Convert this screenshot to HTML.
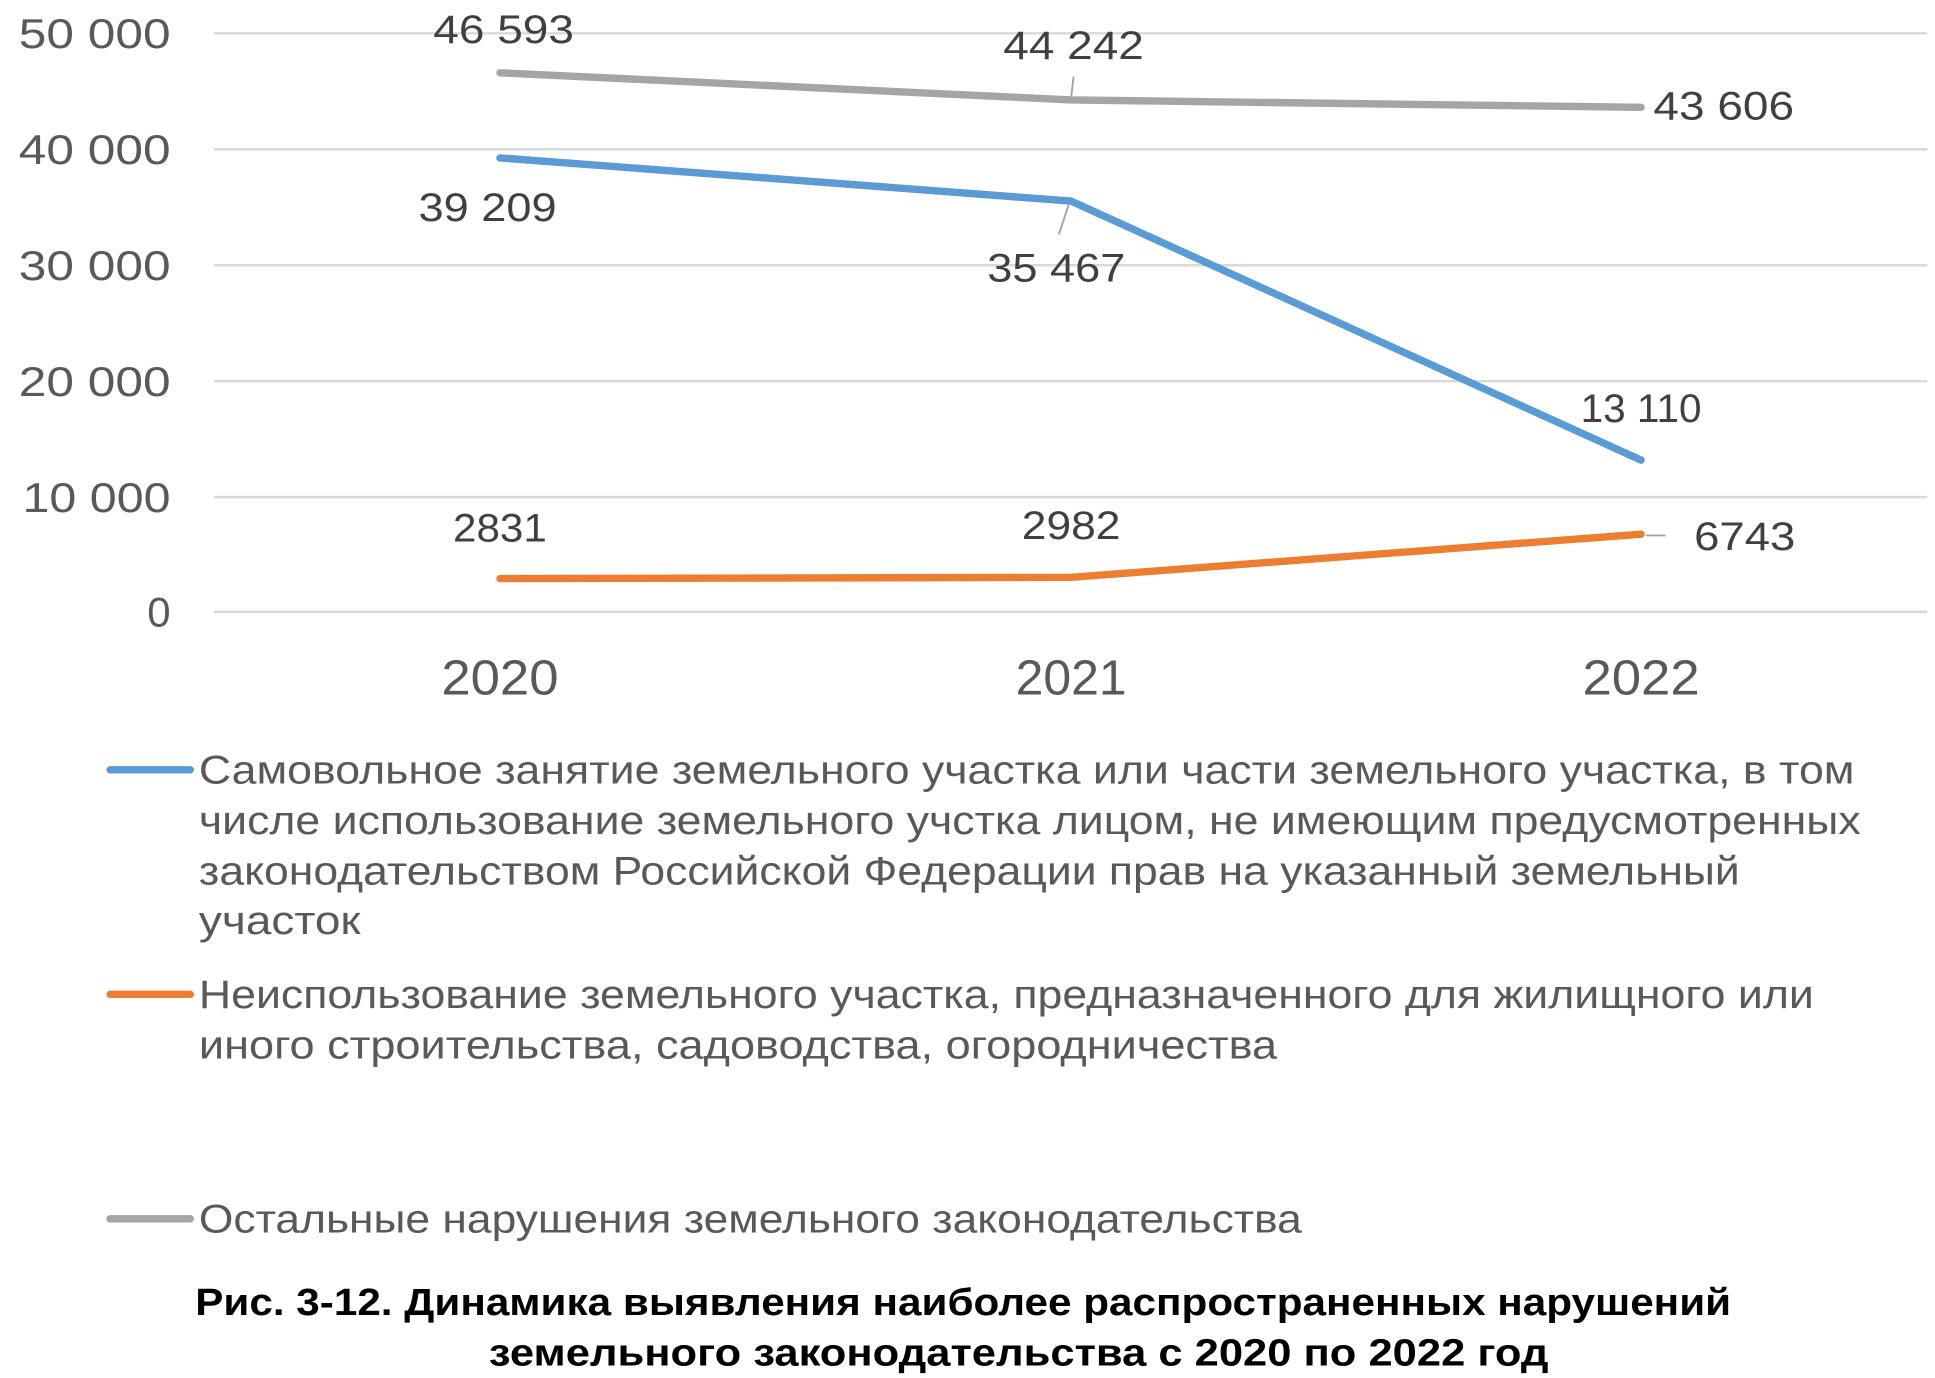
<!DOCTYPE html>
<html><head><meta charset="utf-8"><style>
html,body{margin:0;padding:0;background:#fff;}
svg{display:block;}
text{font-family:"Liberation Sans","Noto Sans CJK SC",sans-serif;}
</style></head><body>
<svg width="1935" height="1378" viewBox="0 0 1568 1117" xmlns="http://www.w3.org/2000/svg">
<g stroke="#d9d9d9" stroke-width="2">
<line x1="173" y1="27" x2="1562" y2="27"/>
<line x1="173" y1="121" x2="1562" y2="121"/>
<line x1="173" y1="215" x2="1562" y2="215"/>
<line x1="173" y1="309" x2="1562" y2="309"/>
<line x1="173" y1="403" x2="1562" y2="403"/>
<line x1="173" y1="496" x2="1562" y2="496"/>
</g>
<g fill="#595959" font-size="34" text-anchor="end">
<text x="138" y="39" textLength="123" lengthAdjust="spacingAndGlyphs">50 000</text>
<text x="138" y="133" textLength="123" lengthAdjust="spacingAndGlyphs">40 000</text>
<text x="138" y="227" textLength="123" lengthAdjust="spacingAndGlyphs">30 000</text>
<text x="138" y="321" textLength="123" lengthAdjust="spacingAndGlyphs">20 000</text>
<text x="138" y="415" textLength="120" lengthAdjust="spacingAndGlyphs">10 000</text>
<text x="138" y="508">0</text>
</g>
<g fill="#595959" font-size="40" text-anchor="middle">
<text x="405" y="563" textLength="95" lengthAdjust="spacingAndGlyphs">2020</text>
<text x="868" y="563" textLength="90" lengthAdjust="spacingAndGlyphs">2021</text>
<text x="1330" y="563" textLength="95" lengthAdjust="spacingAndGlyphs">2022</text>
</g>
<g fill="none" stroke-width="6" stroke-linecap="round" stroke-linejoin="round">
<polyline stroke="#a5a5a5" points="405,59 868,81 1330,87"/>
<polyline stroke="#5b9bd5" points="405,128 868,163 1330,373"/>
<polyline stroke="#ed7d31" points="405,469 868,468 1330,433"/>
</g>
<g stroke="#a5a5a5" stroke-width="1.5">
<line x1="868" y1="79" x2="870" y2="62"/>
<line x1="866" y1="166" x2="858" y2="190"/>
<line x1="1334" y1="434" x2="1350" y2="434"/>
</g>
<g fill="#404040" font-size="32" text-anchor="middle">
<text x="408" y="35" textLength="114" lengthAdjust="spacingAndGlyphs">46 593</text>
<text x="870" y="48" textLength="114" lengthAdjust="spacingAndGlyphs">44 242</text>
<text x="1397" y="97" textLength="114" lengthAdjust="spacingAndGlyphs">43 606</text>
<text x="395" y="179" textLength="112" lengthAdjust="spacingAndGlyphs">39 209</text>
<text x="856" y="228" textLength="112" lengthAdjust="spacingAndGlyphs">35 467</text>
<text x="1330" y="342" textLength="98" lengthAdjust="spacingAndGlyphs">13 110</text>
<text x="405" y="439" textLength="76" lengthAdjust="spacingAndGlyphs">2831</text>
<text x="868" y="437" textLength="80" lengthAdjust="spacingAndGlyphs">2982</text>
<text x="1414" y="446" textLength="82" lengthAdjust="spacingAndGlyphs">6743</text>
</g>
<g stroke-width="6" stroke-linecap="round">
<line x1="89" y1="624" x2="154" y2="624" stroke="#5b9bd5"/>
<line x1="89" y1="806" x2="154" y2="806" stroke="#ed7d31"/>
<line x1="89" y1="988" x2="154" y2="988" stroke="#a5a5a5"/>
</g>
<g fill="#595959" font-size="32">
<text x="161" y="635" textLength="1342" lengthAdjust="spacingAndGlyphs">Самовольное занятие земельного участка или части земельного участка, в том</text>
<text x="161" y="676" textLength="1347" lengthAdjust="spacingAndGlyphs">числе использование земельного учстка лицом, не имеющим предусмотренных</text>
<text x="161" y="717" textLength="1249" lengthAdjust="spacingAndGlyphs">законодательством Российской Федерации прав на указанный земельный</text>
<text x="161" y="757" textLength="131" lengthAdjust="spacingAndGlyphs">участок</text>
<text x="161" y="817" textLength="1309" lengthAdjust="spacingAndGlyphs">Неиспользование земельного участка, предназначенного для жилищного или</text>
<text x="161" y="858" textLength="874" lengthAdjust="spacingAndGlyphs">иного строительства, садоводства, огородничества</text>
<text x="161" y="999" textLength="894" lengthAdjust="spacingAndGlyphs">Остальные нарушения земельного законодательства</text>
</g>
<g fill="#000" font-size="31" font-weight="bold">
<text x="158" y="1066" textLength="1245" lengthAdjust="spacingAndGlyphs">Рис. 3-12. Динамика выявления наиболее распространенных нарушений</text>
<text x="396" y="1107" textLength="859" lengthAdjust="spacingAndGlyphs">земельного законодательства с 2020 по 2022 год</text>
</g>
</svg>
</body></html>
